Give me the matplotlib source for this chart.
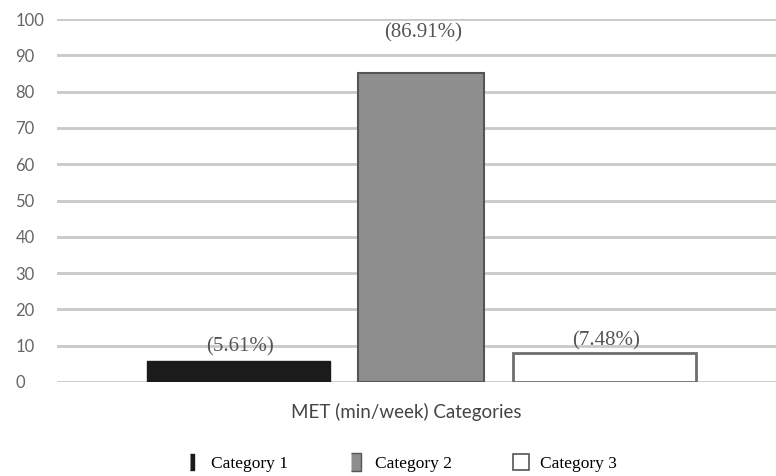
import matplotlib
matplotlib.use("Agg")
import matplotlib.pyplot as plt
from matplotlib.lines import Line2D

# values
categories = ["Category 1", "Category 2", "Category 3"]
bar_heights = [5.8, 85.0, 8.0]
pct_labels = [5.61, 86.91, 7.48]
yticks = list(range(0, 101, 10))

fig = plt.figure(figsize=(7.76, 4.76), dpi=100)
# axes: x 57..776 px, y 19..382 px
ax = fig.add_axes([57 / 776, 1 - 382 / 476, 1 - 57 / 776, (382 - 19) / 476])

x = list(range(len(categories)))
widths = [1.0, 0.69, 1.0]
faces = ["#1b1b1b", "#8e8e8e", "white"]
edges = ["#1b1b1b", "#555555", "#6e6e6e"]
lws = [1.0, 1.5, 2.0]

ax.yaxis.grid(True, color="#c9c9c9", linewidth=2, zorder=0)
ax.set_axisbelow(True)
bars = ax.bar(x, bar_heights, width=widths, color=faces, edgecolor=edges,
              linewidth=lws, zorder=3)

offsets = [14, 41, 12]
for b, p, off in zip(bars, pct_labels, offsets):
    ax.annotate("(%.2f%%)" % p, (b.get_x() + b.get_width() / 2, b.get_height()),
                xytext=(2, off), textcoords="offset pixels", ha="center", va="center",
                family="Liberation Serif", fontsize=15, color="#555555", zorder=4)

ax.set_xlim(-0.99, 2.94)
ax.set_ylim(0, 100)
ax.set_yticks(yticks)
ax.set_xticks([])
for s in ax.spines.values():
    s.set_visible(False)
ax.tick_params(axis="y", length=0, pad=30, labelsize=12, labelcolor="#666666")
for t in ax.get_yticklabels():
    t.set_ha("left")
    t.set_family("Lato")

ax.set_xlabel("MET (min/week) Categories", family="Lato", fontsize=13.5,
              color="#444444")
ax.xaxis.set_label_coords((406 - 57) / (776 - 57), -(403 - 382) / 363)

handles = [
    Line2D([], [], linestyle="none", marker=[(-0.3, -1), (0.3, -1), (0.3, 1), (-0.3, 1)],
           markersize=11, markerfacecolor="#1b1b1b", markeredgecolor="#1b1b1b"),
    Line2D([], [], linestyle="none", marker=[(-0.6, -1), (0.6, -1), (0.6, 1), (-0.6, 1)],
           markersize=13, markerfacecolor="#8e8e8e", markeredgecolor="#555555"),
    Line2D([], [], linestyle="none", marker="s", markersize=12,
           markerfacecolor="white", markeredgecolor="#555555", markeredgewidth=1.2),
]
fig.legend(handles, categories, loc="center", bbox_to_anchor=(400 / 776, 1 - 464 / 476),
           ncol=3, frameon=False, handlelength=1.0, handletextpad=0.6, columnspacing=3.45,
           prop={"family": "Liberation Serif", "size": 12.5})

fig.savefig("out.png", dpi=100)
